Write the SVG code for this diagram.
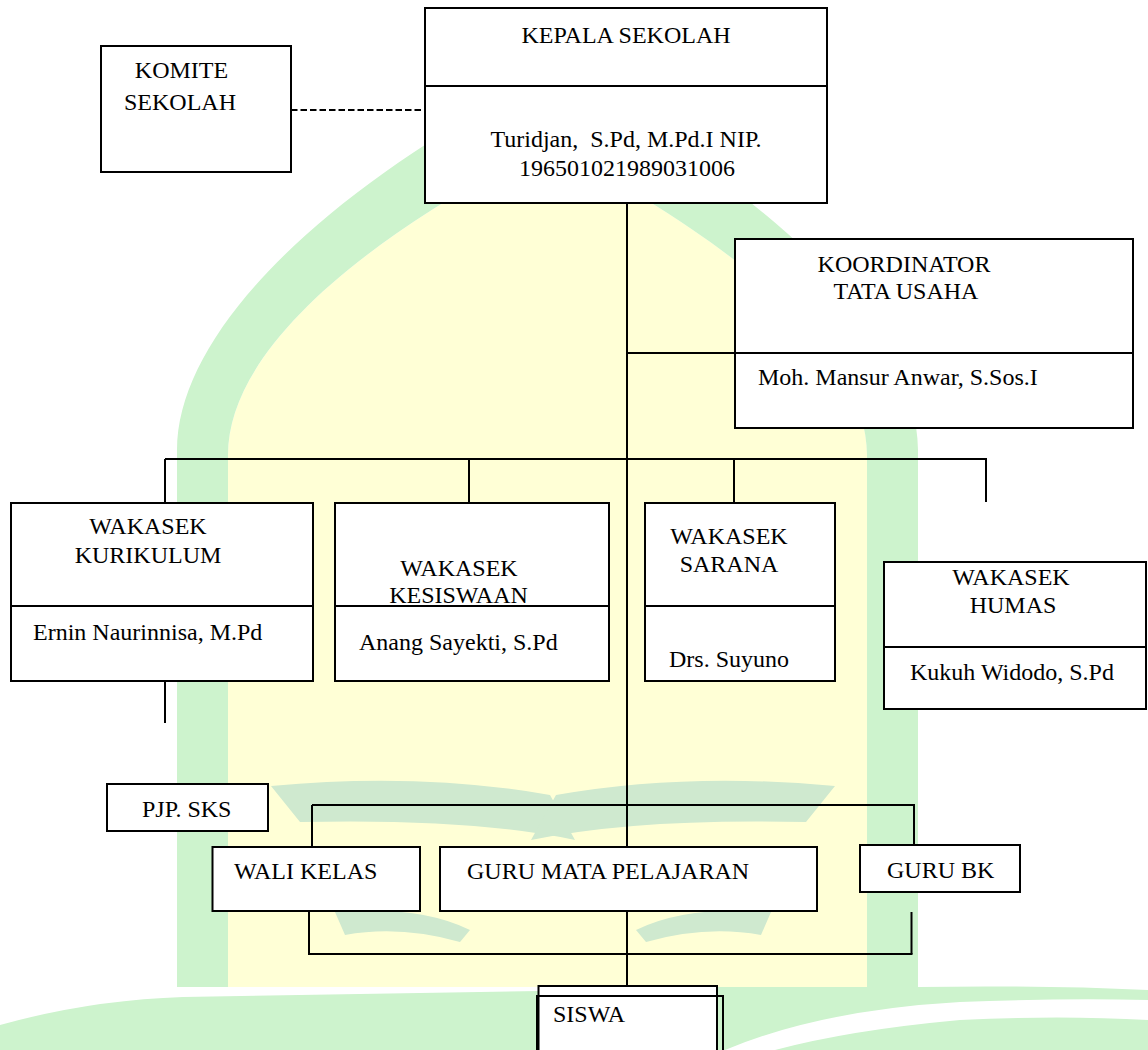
<svg xmlns="http://www.w3.org/2000/svg" width="1148" height="1050" viewBox="0 0 1148 1050">
<style>
.box{fill:#fff;stroke:#000;stroke-width:2}
.ln{stroke:#000;stroke-width:2;fill:none}
.dash{stroke-dasharray:6.5 3}
text{font-family:'Liberation Serif','Times New Roman',serif;font-size:24px;fill:#000}
.c{text-anchor:middle}
.g{fill:#cdf3cd}
.w{fill:#cfe9cf}
.y{fill:#ffffd6}
</style>
<rect x="0" y="0" width="1148" height="1050" fill="#fff"/>
<g id="watermark">
<path class="y" d="M228,987 L228,455 C228,360 340,250 547,145 C755,250 867,360 867,455 L867,987 Z"/>
<path class="g" fill-rule="evenodd" d="M177,987 L177,450 C177,330 330,185 547,75 C765,185 918,330 918,450 L918,987 Z M228,987 L228,455 C228,360 340,250 547,145 C755,250 867,360 867,455 L867,987 Z"/>
<path class="w" d="M271,786 Q420,772 550,795 L575,840 Q470,818 300,822 Z"/>
<path class="w" d="M835,786 Q686,772 556,795 L531,840 Q636,818 806,822 Z"/>
<path class="w" d="M335,912 Q420,905 470,930 L460,942 Q400,925 345,935 Z"/>
<path class="w" d="M771,912 Q686,905 636,930 L646,942 Q706,925 761,935 Z"/>
<path class="g" d="M0,1025 Q90,1000 183,997 L540,991 L540,1050 L0,1050 Z"/>
<path class="g" d="M718,987 L918,987 Q1040,985 1148,990 L1148,1050 L718,1050 Z"/>
<path fill="#fff" d="M725,1050 Q820,1010 960,1002 Q1060,998 1148,1000 L1148,1020 Q1060,1015 960,1020 Q850,1030 775,1050 Z"/>
</g>
<g id="connectors">
<line class="ln dash" x1="291" y1="110" x2="425" y2="110"/>
<line class="ln" x1="627" y1="203" x2="627" y2="847"/>
<line class="ln" x1="627" y1="353" x2="735" y2="353"/>
<line class="ln" x1="165" y1="459" x2="987" y2="459"/>
<line class="ln" x1="165" y1="459" x2="165" y2="503"/>
<line class="ln" x1="469" y1="459" x2="469" y2="503"/>
<line class="ln" x1="734" y1="459" x2="734" y2="503"/>
<line class="ln" x1="986" y1="459" x2="986" y2="502"/>
<line class="ln" x1="165" y1="681" x2="165" y2="723"/>
<line class="ln" x1="312" y1="805" x2="915" y2="805"/>
<line class="ln" x1="312" y1="805" x2="312" y2="847"/>
<line class="ln" x1="914" y1="805" x2="914" y2="845"/>
<line class="ln" x1="309" y1="911" x2="309" y2="954"/>
<line class="ln" x1="911.5" y1="912" x2="911.5" y2="954"/>
<line class="ln" x1="308" y1="954" x2="912.5" y2="954"/>
<line class="ln" x1="627" y1="911" x2="627" y2="986"/>
</g>
<g id="komite">
<rect class="box" x="101" y="46" width="190" height="126"/>
<text class="c" x="181.5" y="78">KOMITE</text>
<text class="c" x="180" y="110">SEKOLAH</text>
</g>
<g id="kepala">
<rect class="box" x="425" y="8" width="402" height="195"/>
<line class="ln" x1="425" y1="86" x2="827" y2="86"/>
<text class="c" x="626" y="43">KEPALA SEKOLAH</text>
<text class="c" x="626" y="147" xml:space="preserve">Turidjan,  S.Pd, M.Pd.I NIP.</text>
<text class="c" x="627" y="176">196501021989031006</text>
</g>
<g id="koordinator">
<rect class="box" x="735" y="239" width="398" height="189"/>
<line class="ln" x1="735" y1="353" x2="1133" y2="353"/>
<text class="c" x="904" y="272">KOORDINATOR</text>
<text class="c" x="906" y="299">TATA USAHA</text>
<text x="758" y="385">Moh. Mansur Anwar, S.Sos.I</text>
</g>
<g id="kurikulum">
<rect class="box" x="11" y="503" width="302" height="178"/>
<line class="ln" x1="11" y1="606" x2="313" y2="606"/>
<text class="c" x="148" y="534">WAKASEK</text>
<text class="c" x="148" y="563">KURIKULUM</text>
<text x="33" y="640">Ernin Naurinnisa, M.Pd</text>
</g>
<g id="kesiswaan">
<rect class="box" x="335" y="503" width="274" height="178"/>
<line class="ln" x1="335" y1="606" x2="609" y2="606"/>
<text class="c" x="459" y="576">WAKASEK</text>
<text class="c" x="458.5" y="603">KESISWAAN</text>
<text x="359" y="650">Anang Sayekti, S.Pd</text>
</g>
<g id="sarana">
<rect class="box" x="645" y="503" width="190" height="178"/>
<line class="ln" x1="645" y1="606" x2="835" y2="606"/>
<text class="c" x="729" y="544">WAKASEK</text>
<text class="c" x="729" y="572">SARANA</text>
<text x="669" y="667">Drs. Suyuno</text>
</g>
<g id="humas">
<rect class="box" x="884" y="562" width="262" height="147"/>
<line class="ln" x1="884" y1="647" x2="1146" y2="647"/>
<text class="c" x="1011" y="585">WAKASEK</text>
<text class="c" x="1013" y="613">HUMAS</text>
<text x="910" y="680">Kukuh Widodo, S.Pd</text>
</g>
<g id="pjp">
<rect class="box" x="107" y="784" width="161" height="47"/>
<text x="142" y="817">PJP. SKS</text>
</g>
<g id="walikelas">
<rect class="box" x="212.5" y="847" width="207.5" height="64"/>
<text x="234" y="879">WALI KELAS</text>
</g>
<g id="gurumapel">
<rect class="box" x="440" y="847" width="377" height="64"/>
<text x="467" y="879">GURU MATA PELAJARAN</text>
</g>
<g id="gurubk">
<rect class="box" x="860" y="845" width="160" height="47"/>
<text x="887" y="878">GURU BK</text>
</g>
<g id="siswa">
<rect class="box" x="538.5" y="986" width="178.5" height="80"/>
<rect class="box" x="537" y="996" width="186" height="70" fill-opacity="0"/>
<text x="553" y="1022">SISWA</text>
</g>
</svg>
